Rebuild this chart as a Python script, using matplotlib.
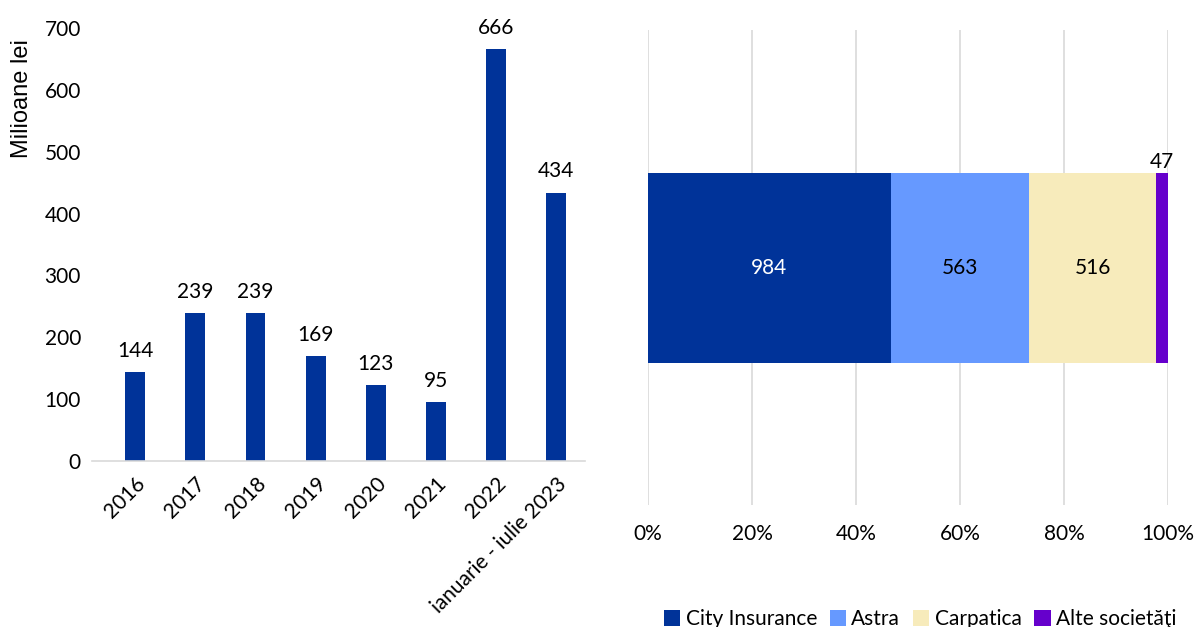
import matplotlib
matplotlib.use("Agg")
import matplotlib.pyplot as plt
from matplotlib.patches import Patch

plt.rcParams["font.family"] = ["Lato", "DejaVu Sans"]

# left panel: yearly amounts, million lei
years = ["2016", "2017", "2018", "2019", "2020", "2021", "2022", "ianuarie - iulie 2023"]
amounts = [144, 239, 239, 169, 123, 95, 666, 434]

# right panel: split by company
companies = ["City Insurance", "Astra", "Carpatica", "Alte societăţi"]
company_vals = [984, 563, 516, 47]
company_colors = ["#003399", "#6699FF", "#F7EBBB", "#6600CC"]
label_colors = ["white", "black", "black", "black"]

FS = 15

fig = plt.figure(figsize=(11.96, 6.27), dpi=100)

# --- left bar chart
ax1 = fig.add_axes([92 / 1196, 1 - 461 / 627, (585 - 92) / 1196, (461 - 28) / 627])
xs = list(range(len(years)))
bars = ax1.bar(xs, amounts, width=0.33, color="#003399")
for b, v in zip(bars, amounts):
    ax1.text(b.get_x() + b.get_width() / 2, v + 18, str(v), ha="center", va="bottom", fontsize=FS)
ax1.set_ylim(0, 700)
ax1.set_xlim(-0.72, 7.48)
ax1.set_yticks(range(0, 701, 100))
ax1.set_xticks(xs)
ax1.set_xticklabels(years, rotation=45, ha="right", rotation_mode="anchor", fontsize=FS)
ax1.tick_params(axis="y", labelsize=FS, length=0, pad=8)
ax1.tick_params(axis="x", length=0, pad=9)
for s in ["top", "right", "left"]:
    ax1.spines[s].set_visible(False)
ax1.spines["bottom"].set_color("#D9D9D9")
ax1.spines["bottom"].set_linewidth(1.2)
ax1.set_ylabel("Milioane lei", fontsize=17, family=["Liberation Sans", "DejaVu Sans"])
ax1.yaxis.set_label_coords(-0.12, 0.838)

# --- right stacked 100% bar
ax2 = fig.add_axes([648 / 1196, 1 - 505 / 627, (1168 - 648) / 1196, (505 - 30) / 627])
total = sum(company_vals)
left = 0.0
for name, v, c, tc in zip(companies, company_vals, company_colors, label_colors):
    w = v / total
    ax2.barh(0, w, left=left, height=0.4, color=c, zorder=3)
    if w > 0.05:
        ax2.text(left + w / 2, 0, str(v), ha="center", va="center", fontsize=FS, color=tc, zorder=4)
    else:
        ax2.text(left + w / 2, 0.2, str(v), ha="center", va="bottom", fontsize=FS, color=tc, zorder=4)
    left += w
ax2.set_xlim(0, 1)
ax2.set_ylim(-0.5, 0.5)
ax2.set_xticks([0, 0.2, 0.4, 0.6, 0.8, 1.0])
ax2.set_xticklabels(["0%", "20%", "40%", "60%", "80%", "100%"])
ax2.set_yticks([])
ax2.grid(axis="x", color="#D9D9D9", linewidth=1.2, zorder=0)
ax2.tick_params(axis="x", labelsize=FS, length=0, pad=14)
for s in ax2.spines.values():
    s.set_visible(False)

handles = [Patch(facecolor=c, edgecolor="none") for c in company_colors]
fig.legend(handles, companies, loc="center", bbox_to_anchor=(920 / 1196, 1 - 619 / 627),
           ncol=4, frameon=False, fontsize=FS, handlelength=0.8, handleheight=0.8,
           handletextpad=0.25, columnspacing=0.6)

fig.savefig("out.png", dpi=100)
